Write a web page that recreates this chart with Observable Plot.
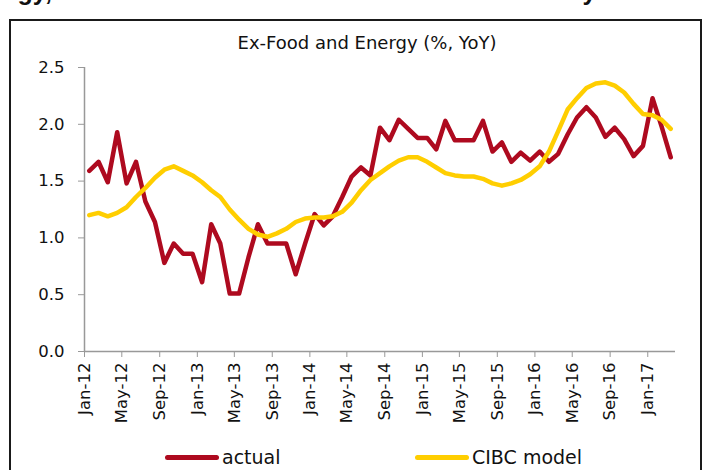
<!DOCTYPE html>
<html>
<head>
<meta charset="utf-8">
<script src="https://cdn.jsdelivr.net/npm/d3@7"></script>
<script src="https://cdn.jsdelivr.net/npm/@observablehq/plot@0.6"></script>
<style>
  html, body { margin: 0; padding: 0; background: #fff; }
  #wrap { position: relative; width: 709px; height: 470px; overflow: hidden; background: #fff; font-family: "DejaVu Sans", sans-serif; }
  #heading { position: absolute; left: -38px; top: -23px; white-space: nowrap; font: bold 25px "Liberation Sans", sans-serif; color: #111; }
  #frame { position: absolute; left: 9px; top: 19px; width: 689px; height: 480px; border: 2px solid #1a1a1a; }
  #title { position: absolute; left: 0; width: 734px; top: 32px; text-align: center; font-size: 18px; color: #111; }
  #chart { position: absolute; left: 0; top: 55px; }
  #legend { position: absolute; top: 446px; left: 0; width: 709px; font-size: 19px; color: #111; }
  .item { position: absolute; display: flex; align-items: center; }
  .sw { width: 54px; height: 5px; border-radius: 3px; margin-right: 3px; }
</style>
</head>
<body>
<div id="wrap">
  <div id="heading">Energy, Inflation and the CIBC Model Tracked Closely</div>
  <div id="frame"></div>
  <div id="title">Ex-Food and Energy (%, YoY)</div>
  <div id="chart"></div>
  <div id="legend">
    <div class="item" style="left:165px"><div class="sw" style="background:#AE0A1F"></div><span>actual</span></div>
    <div class="item" style="left:415px"><div class="sw" style="background:#FFCE00"></div><span>CIBC model</span></div>
  </div>
</div>
<script>
// Monthly series, Jan-2012 .. Mar-2017
const startMonth = "2012-01";
const actual = [
  1.59, 1.67, 1.49, 1.93, 1.48, 1.67, 1.32, 1.14, 0.78, 0.95, 0.86, 0.86,
  0.61, 1.12, 0.95, 0.51, 0.51, 0.83, 1.12, 0.95, 0.95, 0.95, 0.68, 0.95,
  1.21, 1.11, 1.19, 1.36, 1.54, 1.62, 1.55, 1.97, 1.86, 2.04, 1.96, 1.88,
  1.88, 1.78, 2.03, 1.86, 1.86, 1.86, 2.03, 1.76, 1.84, 1.67, 1.75, 1.68,
  1.76, 1.67, 1.74, 1.91, 2.06, 2.15, 2.06, 1.89, 1.97, 1.87, 1.72, 1.81,
  2.23, 1.98, 1.71
];
const cibcModel = [
  1.20, 1.22, 1.19, 1.22, 1.27, 1.36, 1.44, 1.53, 1.60, 1.63, 1.59, 1.55,
  1.49, 1.42, 1.36, 1.25, 1.16, 1.08, 1.03, 1.01, 1.04, 1.08, 1.14, 1.17,
  1.18, 1.18, 1.19, 1.23, 1.31, 1.42, 1.51, 1.57, 1.63, 1.68, 1.71, 1.71,
  1.67, 1.62, 1.57, 1.55, 1.54, 1.54, 1.52, 1.48, 1.46, 1.48, 1.51, 1.56,
  1.63, 1.76, 1.94, 2.13, 2.23, 2.32, 2.36, 2.37, 2.34, 2.28, 2.18, 2.09,
  2.08, 2.04, 1.96
];
const tickMonths = ["2012-01","2012-05","2012-09","2013-01","2013-05","2013-09","2014-01","2014-05","2014-09","2015-01","2015-05","2015-09","2016-01","2016-05","2016-09","2017-01"];
const yTicks = [0, 0.5, 1.0, 1.5, 2.0, 2.5];
const seriesNames = ["actual", "CIBC model"];
const seriesColors = ["#AE0A1F", "#FFCE00"];

const parseMonth = d3.utcParse("%Y-%m");
const m0 = parseMonth(startMonth);
const rows = [];
[actual, cibcModel].forEach((vals, s) => {
  vals.forEach((v, i) => {
    const a = d3.utcMonth.offset(m0, i), b = d3.utcMonth.offset(m0, i + 1);
    rows.push({series: seriesNames[s], date: new Date((+a + +b) / 2), value: v});
  });
});
const xStart = m0;
const xEnd = d3.utcMonth.offset(m0, actual.length);

const chart = Plot.plot({
  width: 709,
  height: 385,
  marginLeft: 84,
  marginRight: 34,
  marginTop: 12,
  marginBottom: 89,
  style: {fontFamily: "DejaVu Sans, sans-serif", fontSize: "16px", color: "#111", background: "transparent"},
  x: {type: "utc", domain: [xStart, xEnd]},
  y: {domain: [0, 2.5]},
  color: {domain: seriesNames, range: seriesColors},
  marks: [
    Plot.axisX({ticks: tickMonths.map(parseMonth), tickFormat: d3.utcFormat("%b-%y"), tickRotate: -90, tickSize: 6, tickPadding: 5, stroke: "#999", fill: "#111", label: null, fontSize: 16.5}),
    Plot.axisY({ticks: yTicks, tickFormat: d3.format(".1f"), tickSize: 6, tickPadding: 14, stroke: "#999", fill: "#111", label: null, fontSize: 16.5}),
    Plot.ruleY([0], {stroke: "#999", strokeWidth: 1.5}),
    Plot.ruleX([xStart], {stroke: "#999", strokeWidth: 1.5}),
    Plot.line(rows.filter(d => d.series === "actual"), {x: "date", y: "value", stroke: "series", strokeWidth: 4.5, strokeLinejoin: "round", strokeLinecap: "round"}),
    Plot.line(rows.filter(d => d.series === "CIBC model"), {x: "date", y: "value", stroke: "series", strokeWidth: 4.5, strokeLinejoin: "round", strokeLinecap: "round"})
  ]
});
document.getElementById("chart").appendChild(chart);
</script>
</body>
</html>
